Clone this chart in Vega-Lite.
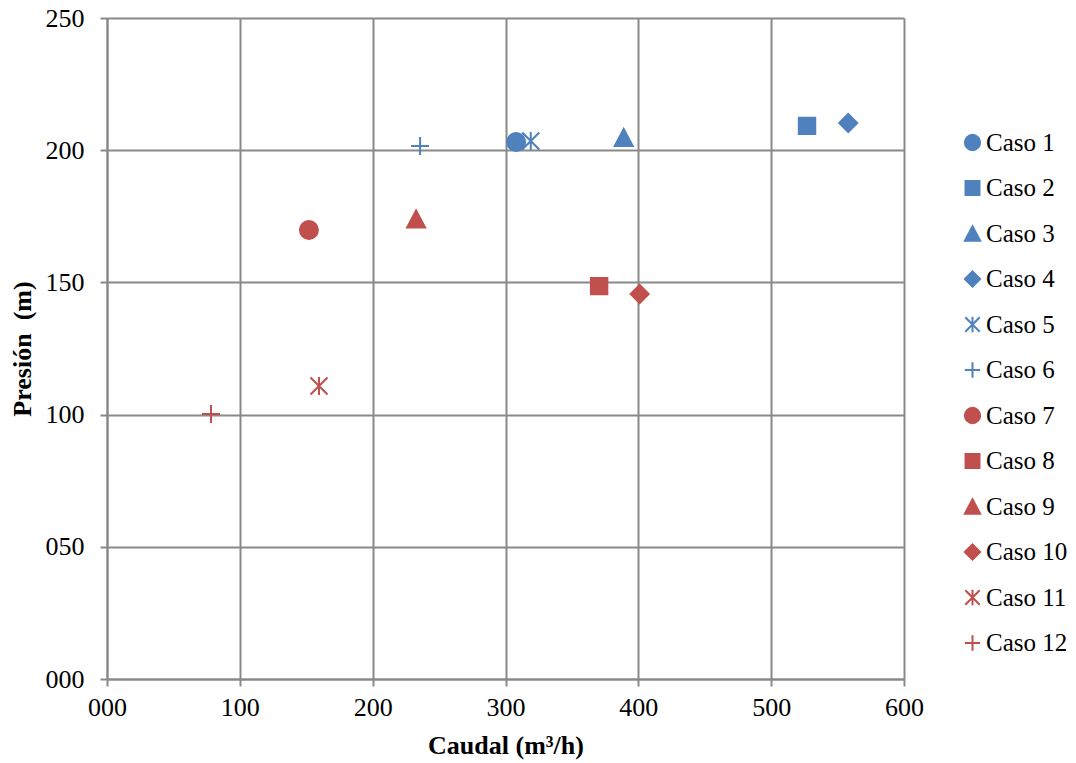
{
  "$schema": "https://vega.github.io/schema/vega-lite/v6.json",
  "width": 797,
  "height": 661,
  "autosize": "none",
  "padding": {"left": 107, "top": 18, "right": 172, "bottom": 84},
  "background": "white",
  "config": {
    "view": {"stroke": null},
    "font": "Liberation Serif",
    "axis": {
      "labelFont": "Liberation Serif",
      "labelFontSize": 26,
      "labelColor": "black",
      "titleFont": "Liberation Serif",
      "titleFontSize": 26,
      "titleFontWeight": "bold",
      "titleColor": "black",
      "gridColor": "#898989",
      "gridWidth": 2,
      "domainColor": "#898989",
      "domainWidth": 2,
      "tickColor": "#898989",
      "tickWidth": 2,
      "tickSize": 7
    },
    "legend": {
      "labelFont": "Liberation Serif",
      "labelFontSize": 25,
      "labelColor": "black"
    }
  },
  "data": {
    "values": [
      {"caso": "Caso 1", "caudal": 308, "presion": 203.1},
      {"caso": "Caso 2", "caudal": 527, "presion": 209.2},
      {"caso": "Caso 3", "caudal": 389, "presion": 204.8},
      {"caso": "Caso 4", "caudal": 558, "presion": 210.3},
      {"caso": "Caso 5", "caudal": 319, "presion": 203.5},
      {"caso": "Caso 6", "caudal": 235.7, "presion": 201.6},
      {"caso": "Caso 7", "caudal": 152, "presion": 169.8},
      {"caso": "Caso 8", "caudal": 370.5, "presion": 148.6},
      {"caso": "Caso 9", "caudal": 232.7, "presion": 174},
      {"caso": "Caso 10", "caudal": 401, "presion": 145.6},
      {"caso": "Caso 11", "caudal": 159.6, "presion": 110.8},
      {"caso": "Caso 12", "caudal": 78.3, "presion": 100.2}
    ]
  },
  "mark": {"type": "point", "size": 400, "strokeWidth": 2, "opacity": 1, "fillOpacity": 1, "strokeOpacity": 1},
  "encoding": {
    "x": {
      "field": "caudal", "type": "quantitative",
      "scale": {"domain": [0, 600], "nice": false, "zero": true},
      "axis": {"values": [0, 100, 200, 300, 400, 500, 600], "format": "03d", "title": "Caudal (m³/h)", "labelPadding": 8, "titlePadding": 12, "labelFlush": false}
    },
    "y": {
      "field": "presion", "type": "quantitative",
      "scale": {"domain": [0, 250], "nice": false, "zero": true},
      "axis": {"values": [0, 50, 100, 150, 200, 250], "format": "03d", "title": "Presión\u00a0\u00a0(m)", "labelPadding": 16, "titlePadding": 10, "labelFlush": false}
    },
    "fill": {
      "field": "caso", "type": "nominal",
      "scale": {
        "domain": ["Caso 1", "Caso 2", "Caso 3", "Caso 4", "Caso 5", "Caso 6", "Caso 7", "Caso 8", "Caso 9", "Caso 10", "Caso 11", "Caso 12"],
        "range": ["#4F81BD", "#4F81BD", "#4F81BD", "#4F81BD", "#4F81BD", "#4F81BD", "#C0504D", "#C0504D", "#C0504D", "#C0504D", "#C0504D", "#C0504D"]
      },
      "legend": {
        "title": null,
        "orient": "none",
        "legendX": 853,
        "legendY": 112,
        "padding": 0,
        "symbolSize": 289,
        "symbolStrokeWidth": 2,
        "labelOffset": 1,
        "rowPadding": 19.5,
        "symbolOpacity": 1,
        "labelFont": "Liberation Serif",
        "labelFontSize": 25,
        "labelColor": "black"
      }
    },
    "stroke": {
      "field": "caso", "type": "nominal",
      "scale": {
        "domain": ["Caso 1", "Caso 2", "Caso 3", "Caso 4", "Caso 5", "Caso 6", "Caso 7", "Caso 8", "Caso 9", "Caso 10", "Caso 11", "Caso 12"],
        "range": ["#4F81BD", "#4F81BD", "#4F81BD", "#4F81BD", "#4F81BD", "#4F81BD", "#C0504D", "#C0504D", "#C0504D", "#C0504D", "#C0504D", "#C0504D"]
      },
      "legend": {
        "title": null,
        "orient": "none",
        "legendX": 853,
        "legendY": 112,
        "padding": 0,
        "symbolSize": 289,
        "symbolStrokeWidth": 2,
        "labelOffset": 1,
        "rowPadding": 19.5,
        "labelFont": "Liberation Serif",
        "labelFontSize": 25,
        "labelColor": "black"
      }
    },
    "shape": {
      "field": "caso", "type": "nominal",
      "scale": {
        "domain": ["Caso 1", "Caso 2", "Caso 3", "Caso 4", "Caso 5", "Caso 6", "Caso 7", "Caso 8", "Caso 9", "Caso 10", "Caso 11", "Caso 12"],
        "range": [
          "M-0.9,0A0.9,0.9 0 1,1 0.9,0A0.9,0.9 0 1,1 -0.9,0Z",
          "M-0.82,-0.82H0.82V0.82H-0.82Z",
          "M0,-0.85L0.9,0.85H-0.9Z",
          "M0,-0.9L0.9,0L0,0.9L-0.9,0Z",
          "M-0.85,-0.85L0.85,0.85M-0.85,0.85L0.85,-0.85M0,-0.9V0.9",
          "M-0.9,0H0.9M0,-0.9V0.9",
          "M-0.9,0A0.9,0.9 0 1,1 0.9,0A0.9,0.9 0 1,1 -0.9,0Z",
          "M-0.82,-0.82H0.82V0.82H-0.82Z",
          "M0,-0.85L0.9,0.85H-0.9Z",
          "M0,-0.9L0.9,0L0,0.9L-0.9,0Z",
          "M-0.85,-0.85L0.85,0.85M-0.85,0.85L0.85,-0.85M0,-0.9V0.9",
          "M-0.9,0H0.9M0,-0.9V0.9"
        ]
      },
      "legend": {
        "title": null,
        "orient": "none",
        "legendX": 853,
        "legendY": 112,
        "padding": 0,
        "symbolSize": 289,
        "symbolStrokeWidth": 2,
        "labelOffset": 1,
        "rowPadding": 19.5,
        "labelFont": "Liberation Serif",
        "labelFontSize": 25,
        "labelColor": "black"
      }
    }
  }
}
